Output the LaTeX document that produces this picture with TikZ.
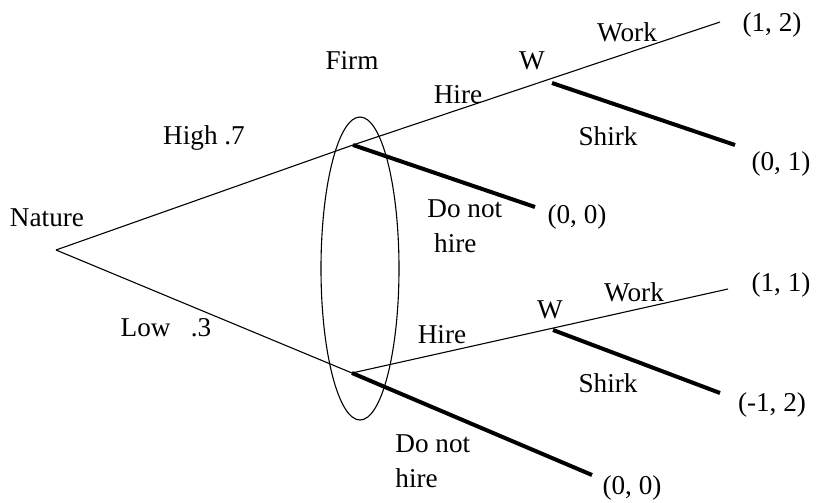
\documentclass[tikz,border=0pt]{standalone}
\usepackage{fontspec}
\setmainfont{Liberation Serif}
\begin{document}
\begin{tikzpicture}[x=0.5pt,y=-0.5pt,
  lbl/.style={inner sep=0pt,anchor=center,font=\fontsize{13.6}{17.5}\selectfont},
  thin/.style={line width=0.55pt},
  thick/.style={line width=2pt,line cap=butt}]
\useasboundingbox (0,0) rectangle (820,503);
% decision points
\coordinate (root) at (56,250);
\coordinate (f1) at (353,145);
\coordinate (f2) at (352,373);
\coordinate (w1) at (552,83);
\coordinate (w2) at (553,330);
\coordinate (e1) at (720,22);
\coordinate (s1) at (735,145);
\coordinate (d1) at (535,207);
\coordinate (e2) at (728,289);
\coordinate (s2) at (720,393);
\coordinate (d2) at (592,475);
% information set
\draw[thin] (360,268.5) ellipse [x radius=39, y radius=151.5];
% branches
\draw[thin] (root) -- (f1);
\draw[thin] (root) -- (f2);
\draw[thin] (f1) -- (e1);
\draw[thin] (f2) -- (e2);
\draw[thick] (f1) -- (d1);
\draw[thick] (w1) -- (s1);
\draw[thick] (f2) -- (d2);
\draw[thick] (w2) -- (s2);
% labels
\node[lbl] (nature) at (47,218) {Nature};
\node[lbl] (high) at (204,138) {High .7};
\node[lbl] (low) at (166,328) {Low\ \ \ .3};
\node[lbl] (firm) at (352,60) {Firm};
\node[lbl] (hire1) at (458,95) {Hire};
\node[lbl] (wl1) at (532,61) {W};
\node[lbl] (work1) at (627,32) {Work};
\node[lbl] (p12) at (772,25) {(1, 2)};
\node[lbl] (shirk1) at (608,136) {Shirk};
\node[lbl] (p01) at (781,164) {(0, 1)};
\node[lbl,align=left,anchor=north west] (dnh1) at (427,199) {Do not\\\hspace*{0.25em}hire};
\node[lbl] (p00a) at (577,217) {(0, 0)};
\node[lbl] (hire2) at (442,335) {Hire};
\node[lbl] (wl2) at (550,310) {W};
\node[lbl] (work2) at (634,292) {Work};
\node[lbl] (p11) at (781,285) {(1, 1)};
\node[lbl] (shirk2) at (608,383) {Shirk};
\node[lbl] (pm12) at (772,405) {(-1, 2)};
\node[lbl,align=left,anchor=north west] (dnh2) at (395,434) {Do not\\hire};
\node[lbl] (p00b) at (632,488) {(0, 0)};
\end{tikzpicture}
\end{document}
